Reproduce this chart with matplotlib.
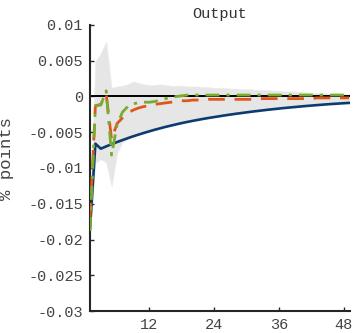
import numpy as np
import matplotlib
matplotlib.use("Agg")
import matplotlib.pyplot as plt

# horizon (quarters) and impulse responses of output
horizon = list(range(1, 50))

irf_base = [-0.0185, -0.0066, -0.0073, -0.00698, -0.00667, -0.00638, -0.00610, -0.00583,
            -0.00557, -0.00533, -0.00509, -0.00487, -0.00465, -0.00445, -0.00425, -0.00407,
            -0.00389, -0.00372, -0.00356, -0.00341, -0.00327, -0.00313, -0.00300, -0.00288,
            -0.00276, -0.00264, -0.00253, -0.00242, -0.00232, -0.00222, -0.00212, -0.00203,
            -0.00194, -0.00185, -0.00177, -0.00169, -0.00161, -0.00154, -0.00147, -0.00140,
            -0.00133, -0.00127, -0.00121, -0.00115, -0.00109, -0.00104, -0.00099, -0.00094,
            -0.00090]

irf_alt1 = [-0.0172, -0.0013, -0.0011, 0.0003, -0.0060, -0.0038, -0.0030, -0.0023,
            -0.0019, -0.0016, -0.0014, -0.0013, -0.0011, -0.0010, -0.0009, -0.0008,
            -0.0007, -0.0006, -0.0006, -0.0005, -0.0005, -0.0005, -0.0004, -0.0004,
            -0.0004, -0.0004, -0.0004, -0.0004, -0.0004, -0.0004, -0.0004, -0.0003,
            -0.0003, -0.0003, -0.0003, -0.0003, -0.0003, -0.0003, -0.0003, -0.0003,
            -0.0003, -0.0003, -0.0002, -0.0002, -0.0002, -0.0002, -0.0002, -0.0002,
            -0.0002]

irf_alt2 = [-0.0188, -0.0013, -0.0012, 0.0008, -0.0082, -0.0040, -0.0022, -0.0014,
            -0.0010, -0.0009, -0.0008, -0.0008, -0.0007, -0.0005, -0.0003, -0.0001,
            0.0000, 0.0001, 0.0002, 0.0002, 0.0002, 0.0002, 0.0002, 0.0002,
            0.0002, 0.0002, 0.0002, 0.0002, 0.0002, 0.0002, 0.0002, 0.0002,
            0.0002, 0.0002, 0.0002, 0.0002, 0.0002, 0.0002, 0.0002, 0.0002,
            0.0002, 0.0002, 0.0002, 0.0002, 0.0002, 0.0002, 0.0002, 0.0002,
            0.0002]

band_hi = [-0.0160, 0.0049, 0.0060, 0.0077, 0.0012, 0.0014, 0.0015, 0.0017,
           0.0021, 0.0019, 0.0017, 0.0016, 0.0016, 0.0017, 0.0016, 0.0015,
           0.0015, 0.0015, 0.0014, 0.0014, 0.0014, 0.0013, 0.0013, 0.0012,
           0.0012, 0.0012, 0.0011, 0.0011, 0.0010, 0.0010, 0.0010, 0.0009,
           0.0009, 0.0009, 0.0008, 0.0008, 0.0007, 0.0007, 0.0007, 0.0006,
           0.0006, 0.0005, 0.0005, 0.0005, 0.0004, 0.0004, 0.0004, 0.0003,
           0.0003]

band_lo = [-0.0190, -0.0092, -0.0088, -0.0092, -0.0126, -0.0080, -0.0064, -0.0059,
           -0.00550, -0.00525, -0.00500, -0.00478, -0.00457, -0.00437, -0.00418, -0.00400,
           -0.00382, -0.00365, -0.00349, -0.00334, -0.00320, -0.00306, -0.00293, -0.00281,
           -0.00269, -0.00257, -0.00246, -0.00235, -0.00225, -0.00215, -0.00205, -0.00196,
           -0.00187, -0.00178, -0.00170, -0.00162, -0.00154, -0.00147, -0.00140, -0.00133,
           -0.00126, -0.00120, -0.00114, -0.00108, -0.00102, -0.00097, -0.00092, -0.00087,
           -0.00083]

yticks = [0.01, 0.005, 0, -0.005, -0.01, -0.015, -0.02, -0.025, -0.03]
ytick_labels = ['0.01', '0.005', '0', '-0.005', '-0.01', '-0.015', '-0.02', '-0.025', '-0.03']
xticks = [12, 24, 36, 48]

plt.rcParams['font.family'] = ['Liberation Mono', 'DejaVu Sans Mono']

fig = plt.figure(figsize=(3.55, 3.33), dpi=100)
ax = fig.add_axes([0.2535, 0.066, 0.733, 0.859])

ax.fill_between(horizon, band_lo, band_hi, color='#e6e6e6', edgecolor='#ececec', lw=0.5, zorder=1)
ax.axhline(0, color='black', lw=1.4, zorder=2)
ax.plot(horizon, irf_base, color='#0b3b70', lw=1.9, zorder=3)
ax.plot(horizon, irf_alt1, color='#e0561a', lw=2.0, dashes=(6, 3.5), zorder=4)
ax.plot(horizon, irf_alt2, color='#77ac30', lw=2.0, dashes=(5, 2.5, 1.2, 2.5), zorder=5)

ax.set_xlim(1, 49.2)
ax.set_ylim(-0.03, 0.01)
ax.set_yticks(yticks)
ax.set_yticklabels(ytick_labels)
ax.set_xticks(xticks)
ax.set_xticklabels([str(t) for t in xticks])

for side in ['top', 'right']:
    ax.spines[side].set_visible(False)
for side in ['left', 'bottom']:
    ax.spines[side].set_color('#262626')
    ax.spines[side].set_linewidth(1.5)

ax.tick_params(direction='in', length=3, width=1, colors='#262626',
               labelsize=11, labelcolor='#444444', pad=5)
ax.set_title('Output', fontsize=11, color='#333333', pad=5)

# y label sits partly off the left edge of the figure
fig.text(14 / 355, 1 - 158 / 333, '% points', rotation=90, ha='right', va='center',
         fontsize=12.5, color='#444444')

fig.savefig('out.png', dpi=100)
